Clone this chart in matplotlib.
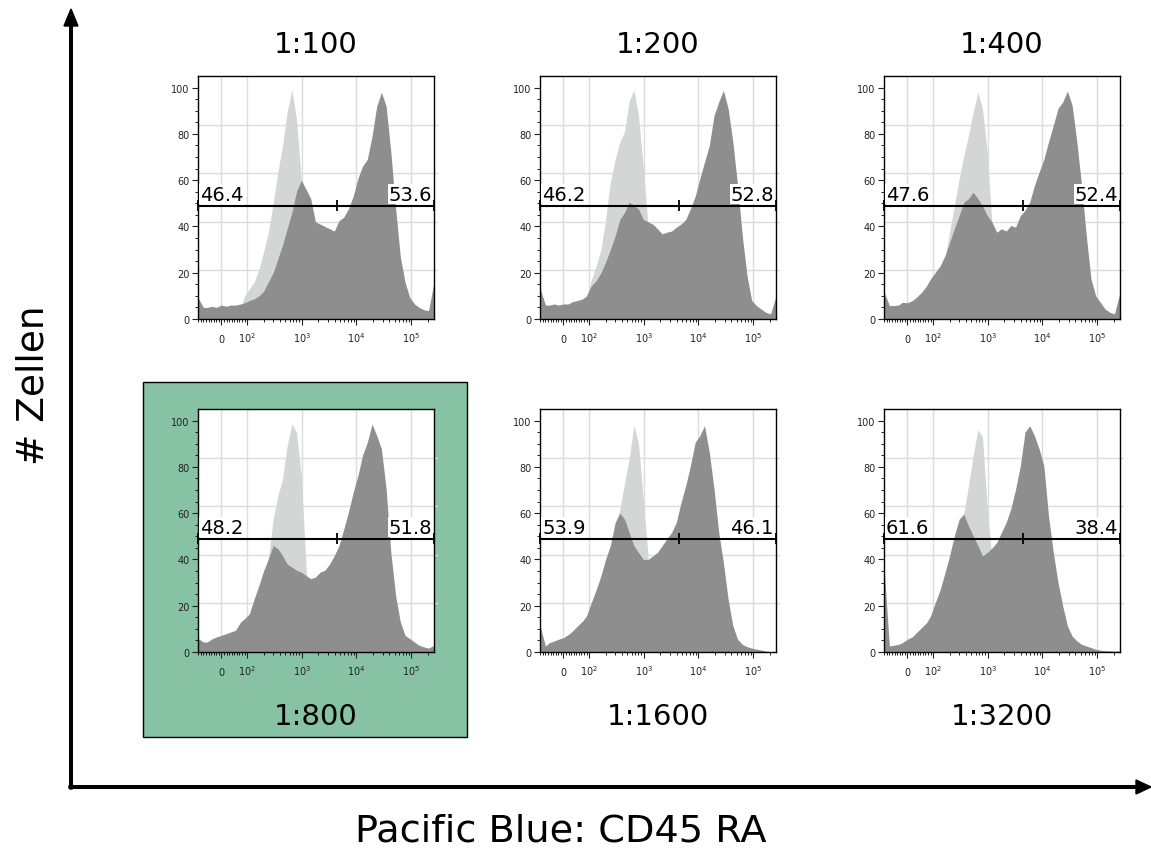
import numpy as np
import matplotlib.pyplot as plt
from matplotlib.patches import Rectangle, FancyArrow

# channel positions (intensity) shared by all stained histograms
intensity = [-90, -70, -55, -35, -20, 0, 20, 35, 55, 75, 90, 110, 135, 165, 200,
             245, 300, 365, 445, 540, 660, 800, 980, 1200, 1460, 1780, 2170, 2640,
             3230, 3940, 4800, 5850, 7130, 8710, 10600, 12900, 15800, 19300, 23500,
             28600, 34900, 42600, 52000, 63400, 77300, 94200, 115000, 140000,
             171000, 208000, 262000]

# channel positions of the unstained control
ctrl_intensity = [75, 90, 110, 135, 165, 200, 245, 300, 365, 445, 540, 660, 800,
                  980, 1200, 1460]

dilutions = ['1:100', '1:200', '1:400', '1:800', '1:1600', '1:3200']

# % of max, stained samples
stain_100 = [9, 5, 5, 5.5, 5, 6, 5.5, 6, 6, 6.5, 7, 8, 8.7, 10, 12, 16, 20, 26, 32, 39,
             46, 55, 60, 56, 52, 42, 41, 40, 39, 38, 42.5, 44, 47.6, 53, 60.6, 66, 69,
             79, 92, 98, 92, 72, 48, 27, 16, 9.4, 6.5, 5, 4, 3.6, 16]
stain_200 = [13, 6, 6, 6.5, 6, 6.5, 6.5, 7.5, 8, 8.7, 10, 14.4, 16.6, 20, 24.5, 30, 36,
             43, 46, 50.5, 49, 47.6, 43, 42, 41, 39, 36.8, 37.5, 38, 39.7, 41, 43, 47.6,
             53, 60.6, 67.8, 75, 88, 93.8, 98.8, 91, 76.5, 57.7, 36, 18.8, 8, 5.8, 4.3,
             2.9, 2.2, 10]
stain_400 = [11.5, 5.8, 5.8, 6, 7.2, 7, 8, 9.4, 11.5, 14.4, 17.3, 20.2, 23, 27.4, 33,
             39, 44.7, 50.5, 52, 54.8, 52, 49, 44.7, 41.8, 37.5, 39, 38, 40.4, 39.7,
             44.7, 47, 50.5, 57.7, 63.5, 69, 76.5, 83.7, 91, 93.8, 98.5, 92.4, 76.5,
             57.7, 36, 17.3, 10, 7.2, 4.3, 2.9, 2.2, 11.5]
stain_800 = [5.8, 4.3, 4.3, 5.8, 6.5, 7.2, 8, 8.6, 9.4, 13, 14.4, 16.5, 23, 28.8, 35,
             40.3, 46, 44.6, 41.7, 38, 36.7, 35.3, 34.5, 33, 31.7, 32.4, 34.5, 35.3, 38,
             41.7, 46, 53, 60.4, 69, 76, 85, 90.6, 98.5, 93.5, 87.8, 70.5, 43, 24.5, 13,
             7.2, 5.8, 4.3, 2.9, 2.2, 1.7, 2.9]
stain_1600 = [11, 2.6, 4, 4.8, 5.5, 6.2, 7.6, 9, 11.3, 13.4, 15.6, 21.4, 27, 33, 40, 46,
              56, 60, 57.4, 51.7, 46, 43, 40, 40, 41.5, 43, 46, 48.8, 51.7, 56, 64.6,
              71.9, 80.5, 90.6, 93.5, 97.8, 86.3, 70.4, 51.7, 38.7, 22.8, 11.3, 5.5,
              3.3, 2.3, 1.7, 1.2, 0.9, 0.4, 0.2, 0.2]
stain_3200 = [35, 2.6, 2.9, 3.3, 4, 5.5, 6.6, 8.4, 10.5, 12.7, 15.6, 21.4, 27, 34.3, 41.5,
              50.2, 57.4, 59.6, 54.5, 50.2, 46, 41.5, 43, 45, 47.3, 51.7, 56, 61.8, 70.4,
              80.5, 95, 97.8, 93.5, 87.7, 80.5, 58.9, 43, 30, 19.9, 11.3, 6.9, 4.8, 3.3,
              2.6, 1.9, 1.2, 0.8, 0.6, 0.5, 0.4, 0.4]

# % of max, unstained control
ctrl_100 = [5, 10, 13, 16, 21.6, 29, 37.5, 50, 63.5, 75, 89.5, 99, 86.6, 60.6, 30, 0]
ctrl_200 = [6, 9, 17, 23, 30, 43, 59, 69, 76.5, 81, 94, 99, 88, 66, 40, 0]
ctrl_400 = [8, 12, 16, 20, 26, 37.5, 49, 60.6, 70.7, 79.4, 89.5, 98, 91, 72, 40, 0]
ctrl_800 = [8, 10, 12, 18, 22, 30, 40, 57.5, 67.6, 74.8, 89, 98.6, 95, 76, 37, 0]
ctrl_1600 = [8, 10, 15, 20, 27, 35, 44, 54, 61.8, 73, 83.4, 98, 90, 66, 41.5, 0]
ctrl_3200 = [8, 10, 15, 20, 28, 36, 45, 53, 60, 72, 85, 96, 93, 61.8, 40, 0]

# gate frequencies (left, right)
gate_left = ['46.4', '46.2', '47.6', '48.2', '53.9', '61.6']
gate_right = ['53.6', '52.8', '52.4', '51.8', '46.1', '38.4']
gate_split = 4400
gate_y = 49

x_major = [0, 100, 1000, 10000, 100000]
x_labels = ['0', '$10^2$', '$10^3$', '$10^4$', '$10^5$']

stains = [stain_100, stain_200, stain_400, stain_800, stain_1600, stain_3200]
ctrls = [ctrl_100, ctrl_200, ctrl_400, ctrl_800, ctrl_1600, ctrl_3200]

W, H = 1151, 853
fig = plt.figure(figsize=(W / 100, H / 100), dpi=100)

# highlighted panel background
fig.patches.append(Rectangle((143 / W, 1 - 738 / H), 324 / W, 355 / H,
                             transform=fig.transFigure, facecolor='#87c2a5',
                             edgecolor='black', lw=1, zorder=-1))

lefts = [198, 540, 884]
tops = [77, 410]
xmin, xmax = -91, 262144
grid_y = [21, 42, 63, 84]

for k in range(6):
    r, c = divmod(k, 3)
    ax = fig.add_axes([lefts[c] / W, 1 - (tops[r] + 243) / H, 236 / W, 243 / H])
    ax.set_zorder(2)
    ax.set_xscale('symlog', linthresh=100, linscale=0.423)
    ax.set_xlim(xmin, xmax)
    ax.set_ylim(0, 105)

    for gx in x_major:
        ax.axvline(gx, color='#dcdcdc', lw=1, zorder=0.5)
    for gy in grid_y:
        ax.plot([0, 1.012], [gy, gy], transform=ax.get_yaxis_transform(),
                color='#dcdcdc', lw=1, clip_on=False, zorder=0.5)

    ax.fill_between(ctrl_intensity, ctrls[k], 0, color='#d4d6d6', lw=0, zorder=1)
    ax.fill_between(intensity, stains[k], 0, color='#8e8e8e', lw=0, zorder=2)

    # gate bar
    ax.hlines(gate_y, xmin, xmax, color='black', lw=1.5, zorder=4, clip_on=False)
    ax.vlines([xmin, gate_split, xmax], gate_y - 2.3, gate_y + 2.3, color='black',
              lw=1.3, zorder=4, clip_on=False)
    ax.annotate(gate_left[k], (xmin, gate_y), xytext=(1.5, 1.5), textcoords='offset points',
                ha='left', va='bottom', fontsize=14, zorder=5,
                bbox=dict(facecolor='white', edgecolor='none', pad=0.5))
    ax.annotate(gate_right[k], (xmax, gate_y), xytext=(-1.5, 1.5), textcoords='offset points',
                ha='right', va='bottom', fontsize=14, zorder=5,
                bbox=dict(facecolor='white', edgecolor='none', pad=0.5))

    ax.set_xticks(x_major)
    ax.set_xticklabels([])
    # the plain "0" sits lower than the superscripted decades
    for v, lab in zip(x_major, x_labels):
        dy = -10.8 if lab == '0' else -8.3
        ax.annotate(lab, (v, 0), xycoords=('data', 'axes fraction'), xytext=(0, dy),
                    textcoords='offset points', ha='center', va='top', fontsize=7,
                    color='#222222', annotation_clip=False)
    minor = ([-v for v in range(10, 91, 10)] + list(range(10, 91, 10)) +
             [m * 10 ** e for e in (2, 3, 4) for m in range(2, 10)] + [200000])
    ax.set_xticks(minor, minor=True)
    ax.set_yticks(range(0, 101, 20))
    ax.set_yticks(range(0, 101, 5), minor=True)
    ax.tick_params(labelsize=7, length=4, width=0.8, colors='#222222')
    ax.tick_params(axis='y', pad=2)
    ax.tick_params(which='minor', length=2, width=0.6)
    for s in ax.spines.values():
        s.set_linewidth(1)

    cx = (lefts[c] + 118) / W
    ty = 45 if r == 0 else 717
    fig.text(cx, 1 - ty / H, dilutions[k], ha='center', va='center', fontsize=21)

# axis arrows
fig.patches.append(FancyArrow(71 / W, 1 - 790 / H, 0, (790 - 10) / H,
                              width=2.6 / W, head_width=14 / W, head_length=17 / H,
                              length_includes_head=True, color='black',
                              transform=fig.transFigure))
fig.patches.append(FancyArrow(69 / W, 1 - 788 / H, (1151 - 69) / W, 0,
                              width=2.6 / H, head_width=14 / H, head_length=15 / W,
                              length_includes_head=True, color='black',
                              transform=fig.transFigure))

fig.text(33 / W, 1 - 385 / H, '# Zellen', rotation=90, ha='center', va='center',
         fontsize=27)
fig.text(561 / W, 1 - 832 / H, 'Pacific Blue: CD45 RA', ha='center', va='center',
         fontsize=27.5)

fig.savefig('out.png', dpi=100)
